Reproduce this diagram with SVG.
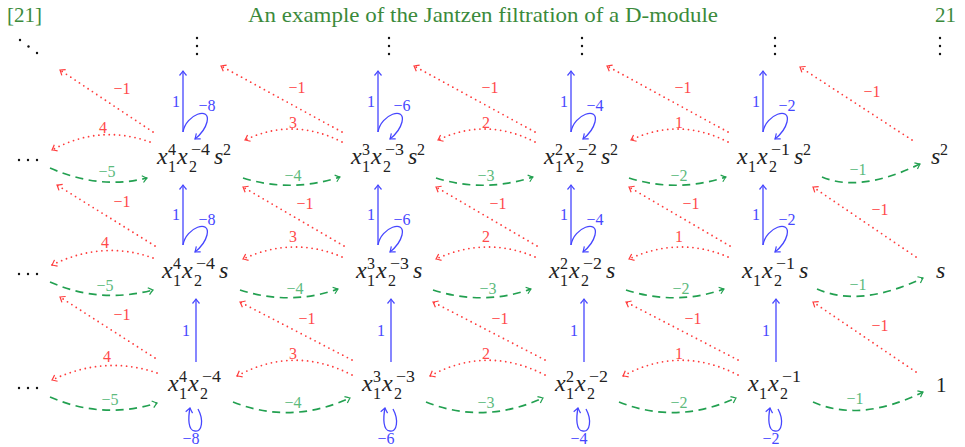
<svg xmlns="http://www.w3.org/2000/svg" width="965" height="447" viewBox="0 0 965 447">
<defs>
<style>
.hd{font-family:"Liberation Serif","Times New Roman",serif;font-size:21px;fill:#3b8a3b}
.m{font-family:"Liberation Serif","Times New Roman",serif;font-style:italic;font-size:24px;fill:#222}
.sc{font-family:"Liberation Serif","Times New Roman",serif;font-size:16px;fill:#222}
.up{font-family:"Liberation Serif","Times New Roman",serif;font-size:21px;fill:#222}
.lr{font-family:"Liberation Serif","Times New Roman",serif;font-size:16px;fill:#ff4a4a;text-anchor:middle}
.lg{font-family:"Liberation Serif","Times New Roman",serif;font-size:16px;fill:#5cba7d;text-anchor:middle}
.lb{font-family:"Liberation Serif","Times New Roman",serif;font-size:16px;fill:#4646ff;text-anchor:middle}
.rd{fill:none;stroke:#ff3c3c;stroke-width:1.8;stroke-dasharray:0 5.2;stroke-linecap:round;marker-end:url(#mr)}
.gd{fill:none;stroke:#22a050;stroke-width:1.7;stroke-dasharray:8 5.5;marker-end:url(#mg)}
.bl{fill:none;stroke:#4646ff;stroke-width:1.3;marker-end:url(#mb)}
.dot{fill:#111}
</style>
<marker id="mr" viewBox="-6 -5 8 10" markerWidth="8" markerHeight="10" refX="0" refY="0" orient="auto" markerUnits="userSpaceOnUse"><path d="M-4.5,-3.5 Q-1.5,-1 0,0 Q-1.5,1 -4.5,3.5" fill="none" stroke="#ff3c3c" stroke-width="1.2"/></marker>
<marker id="mg" viewBox="-6 -5 8 10" markerWidth="8" markerHeight="10" refX="0" refY="0" orient="auto" markerUnits="userSpaceOnUse"><path d="M-4.5,-3.5 Q-1.5,-1 0,0 Q-1.5,1 -4.5,3.5" fill="none" stroke="#22a050" stroke-width="1.2"/></marker>
<marker id="mb" viewBox="-6 -5 8 10" markerWidth="8" markerHeight="10" refX="0" refY="0" orient="auto" markerUnits="userSpaceOnUse"><path d="M-4.5,-3.5 Q-1.5,-1 0,0 Q-1.5,1 -4.5,3.5" fill="none" stroke="#4646ff" stroke-width="1.2"/></marker>
</defs>

<g id="header">
<text class="hd" x="7" y="22">[21]</text>
<text class="hd" x="248" y="22" textLength="470" lengthAdjust="spacingAndGlyphs">An example of the Jantzen filtration of a D-module</text>
<text class="hd" x="956" y="22" text-anchor="end">21</text>
</g>

<g id="dots">
<circle class="dot" cx="20" cy="40" r="1.2"/><circle class="dot" cx="28.5" cy="46.5" r="1.2"/><circle class="dot" cx="37" cy="53" r="1.2"/>
<circle class="dot" cx="197" cy="38" r="1.2"/><circle class="dot" cx="197" cy="46" r="1.2"/><circle class="dot" cx="197" cy="54" r="1.2"/>
<circle class="dot" cx="389" cy="38" r="1.2"/><circle class="dot" cx="389" cy="46" r="1.2"/><circle class="dot" cx="389" cy="54" r="1.2"/>
<circle class="dot" cx="582" cy="38" r="1.2"/><circle class="dot" cx="582" cy="46" r="1.2"/><circle class="dot" cx="582" cy="54" r="1.2"/>
<circle class="dot" cx="775" cy="38" r="1.2"/><circle class="dot" cx="775" cy="46" r="1.2"/><circle class="dot" cx="775" cy="54" r="1.2"/>
<circle class="dot" cx="940" cy="38" r="1.2"/><circle class="dot" cx="940" cy="46" r="1.2"/><circle class="dot" cx="940" cy="54" r="1.2"/>
</g>

<g id="left-dots">
<circle class="dot" cx="19" cy="160" r="1.2"/><circle class="dot" cx="28" cy="160" r="1.2"/><circle class="dot" cx="37" cy="160" r="1.2"/>
<circle class="dot" cx="19" cy="274" r="1.2"/><circle class="dot" cx="28" cy="274" r="1.2"/><circle class="dot" cx="37" cy="274" r="1.2"/>
<circle class="dot" cx="19" cy="388" r="1.2"/><circle class="dot" cx="28" cy="388" r="1.2"/><circle class="dot" cx="37" cy="388" r="1.2"/>
</g>

<!-- nodes: row s^2 -->
<g id="n4s2" transform="translate(157,164)">
<text class="m" x="0" y="0">x</text><text class="sc" x="11" y="8">1</text><text class="sc" x="11" y="-9">4</text>
<text class="m" x="20" y="0">x</text><text class="sc" x="32" y="8">2</text><text class="sc" x="34" y="-9" textLength="19" lengthAdjust="spacingAndGlyphs">−4</text>
<text class="m" x="57" y="0">s</text><text class="sc" x="66" y="-9">2</text>
</g>
<g id="n3s2" transform="translate(351,164)">
<text class="m" x="0" y="0">x</text><text class="sc" x="11" y="8">1</text><text class="sc" x="11" y="-9">3</text>
<text class="m" x="20" y="0">x</text><text class="sc" x="32" y="8">2</text><text class="sc" x="34" y="-9" textLength="19" lengthAdjust="spacingAndGlyphs">−3</text>
<text class="m" x="57" y="0">s</text><text class="sc" x="66" y="-9">2</text>
</g>
<g id="n2s2" transform="translate(544,164)">
<text class="m" x="0" y="0">x</text><text class="sc" x="11" y="8">1</text><text class="sc" x="11" y="-9">2</text>
<text class="m" x="20" y="0">x</text><text class="sc" x="32" y="8">2</text><text class="sc" x="34" y="-9" textLength="19" lengthAdjust="spacingAndGlyphs">−2</text>
<text class="m" x="57" y="0">s</text><text class="sc" x="66" y="-9">2</text>
</g>
<g id="n1s2" transform="translate(737,164)">
<text class="m" x="0" y="0">x</text><text class="sc" x="11" y="8">1</text>
<text class="m" x="20" y="0">x</text><text class="sc" x="32" y="8">2</text><text class="sc" x="34" y="-9" textLength="19" lengthAdjust="spacingAndGlyphs">−1</text>
<text class="m" x="57" y="0">s</text><text class="sc" x="66" y="-9">2</text>
</g>
<g id="n0s2" transform="translate(931,164)">
<text class="m" x="0" y="0">s</text><text class="sc" x="9" y="-9">2</text>
</g>

<!-- nodes: row s -->
<g id="n4s1" transform="translate(162,278)">
<text class="m" x="0" y="0">x</text><text class="sc" x="11" y="8">1</text><text class="sc" x="11" y="-9">4</text>
<text class="m" x="20" y="0">x</text><text class="sc" x="32" y="8">2</text><text class="sc" x="34" y="-9" textLength="19" lengthAdjust="spacingAndGlyphs">−4</text>
<text class="m" x="57" y="0">s</text>
</g>
<g id="n3s1" transform="translate(356,278)">
<text class="m" x="0" y="0">x</text><text class="sc" x="11" y="8">1</text><text class="sc" x="11" y="-9">3</text>
<text class="m" x="20" y="0">x</text><text class="sc" x="32" y="8">2</text><text class="sc" x="34" y="-9" textLength="19" lengthAdjust="spacingAndGlyphs">−3</text>
<text class="m" x="57" y="0">s</text>
</g>
<g id="n2s1" transform="translate(549,278)">
<text class="m" x="0" y="0">x</text><text class="sc" x="11" y="8">1</text><text class="sc" x="11" y="-9">2</text>
<text class="m" x="20" y="0">x</text><text class="sc" x="32" y="8">2</text><text class="sc" x="34" y="-9" textLength="19" lengthAdjust="spacingAndGlyphs">−2</text>
<text class="m" x="57" y="0">s</text>
</g>
<g id="n1s1" transform="translate(742,278)">
<text class="m" x="0" y="0">x</text><text class="sc" x="11" y="8">1</text>
<text class="m" x="20" y="0">x</text><text class="sc" x="32" y="8">2</text><text class="sc" x="34" y="-9" textLength="19" lengthAdjust="spacingAndGlyphs">−1</text>
<text class="m" x="57" y="0">s</text>
</g>
<g id="n0s1" transform="translate(936,278)">
<text class="m" x="0" y="0">s</text>
</g>

<!-- nodes: row 1 -->
<g id="n4s0" transform="translate(168,391)">
<text class="m" x="0" y="0">x</text><text class="sc" x="11" y="8">1</text><text class="sc" x="11" y="-9">4</text>
<text class="m" x="20" y="0">x</text><text class="sc" x="32" y="8">2</text><text class="sc" x="34" y="-9" textLength="19" lengthAdjust="spacingAndGlyphs">−4</text>
</g>
<g id="n3s0" transform="translate(362,391)">
<text class="m" x="0" y="0">x</text><text class="sc" x="11" y="8">1</text><text class="sc" x="11" y="-9">3</text>
<text class="m" x="20" y="0">x</text><text class="sc" x="32" y="8">2</text><text class="sc" x="34" y="-9" textLength="19" lengthAdjust="spacingAndGlyphs">−3</text>
</g>
<g id="n2s0" transform="translate(555,391)">
<text class="m" x="0" y="0">x</text><text class="sc" x="11" y="8">1</text><text class="sc" x="11" y="-9">2</text>
<text class="m" x="20" y="0">x</text><text class="sc" x="32" y="8">2</text><text class="sc" x="34" y="-9" textLength="19" lengthAdjust="spacingAndGlyphs">−2</text>
</g>
<g id="n1s0" transform="translate(748,391)">
<text class="m" x="0" y="0">x</text><text class="sc" x="11" y="8">1</text>
<text class="m" x="20" y="0">x</text><text class="sc" x="32" y="8">2</text><text class="sc" x="34" y="-9" textLength="19" lengthAdjust="spacingAndGlyphs">−1</text>
</g>
<g id="n0s0" transform="translate(936,392)">
<text class="up" x="0" y="0">1</text>
</g>

<g id="connectors">
<!-- gap 0 -->
<path class="rd" d="M153,132 L60,70"/>
<path class="rd" d="M150,142 Q100,124 52,150"/>
<path class="gd" d="M50,168 Q100,190 147,178"/>
<path class="rd" d="M155,246 L57,185"/>
<path class="rd" d="M153,258 Q103,240 52,265"/>
<path class="gd" d="M50,282 Q100,304 153,290"/>
<path class="rd" d="M155,358 L60,297"/>
<path class="rd" d="M157,373 Q105,355 52,380"/>
<path class="gd" d="M50,397 Q103,420 157,403"/>

<!-- gaps 1-3 -->
<g id="gap1">
<path class="rd" d="M342,132 L221,66"/>
<path class="rd" d="M342,142 Q293,117 245,140"/>
<path class="gd" d="M243,178 Q291,193 340,177"/>
<path class="rd" d="M344,246 L243,187"/>
<path class="rd" d="M342,257 Q293,236 243,259"/>
<path class="gd" d="M240,290 Q290,306 338,289"/>
<path class="rd" d="M352,360 L240,302"/>
<path class="rd" d="M352,375 Q294,345 237,376"/>
<path class="gd" d="M233,402 Q291,425 350,398"/>
</g>
<g id="gap2" transform="translate(193,0)">
<path class="rd" d="M342,132 L221,66"/>
<path class="rd" d="M342,142 Q293,117 245,140"/>
<path class="gd" d="M243,178 Q291,193 340,177"/>
<path class="rd" d="M344,246 L243,187"/>
<path class="rd" d="M342,257 Q293,236 243,259"/>
<path class="gd" d="M240,290 Q290,306 338,289"/>
<path class="rd" d="M352,360 L240,302"/>
<path class="rd" d="M352,375 Q294,345 237,376"/>
<path class="gd" d="M233,402 Q291,425 350,398"/>
</g>
<g id="gap3" transform="translate(386,0)">
<path class="rd" d="M342,132 L221,66"/>
<path class="rd" d="M342,142 Q293,117 245,140"/>
<path class="gd" d="M243,178 Q291,193 340,177"/>
<path class="rd" d="M344,246 L243,187"/>
<path class="rd" d="M342,257 Q293,236 243,259"/>
<path class="gd" d="M240,290 Q290,306 338,289"/>
<path class="rd" d="M352,360 L240,302"/>
<path class="rd" d="M352,375 Q294,345 237,376"/>
<path class="gd" d="M233,402 Q291,425 350,398"/>
</g>

<!-- gap 4 -->
<path class="rd" d="M912,140 L800,67"/>
<path class="gd" d="M822,177 Q860,193 920,164"/>
<path class="rd" d="M916,257 L813,187"/>
<path class="gd" d="M817,289 Q860,308 923,278"/>
<path class="rd" d="M916,372 L813,302"/>
<path class="gd" d="M813,402 Q860,423 923,392"/>

<!-- blue: columns -->
<g id="bcol1">
<path class="bl" d="M183,132 L183,71"/>
<path class="bl" d="M183,132 C186,114 211,106 207,122 C205,130 200,135 195,139"/>
<path class="bl" d="M183,245 L183,185"/>
<path class="bl" d="M183,245 C186,227 211,219 207,235 C205,243 200,248 195,252"/>
<path class="bl" d="M196,362 L196,299"/>
<path class="bl" d="M198,409 C204,420 202,432 195,431 C188,431 188,418 190,408"/>
</g>
<g id="bcol2" transform="translate(195,0)">
<path class="bl" d="M183,132 L183,71"/>
<path class="bl" d="M183,132 C186,114 211,106 207,122 C205,130 200,135 195,139"/>
<path class="bl" d="M183,245 L183,185"/>
<path class="bl" d="M183,245 C186,227 211,219 207,235 C205,243 200,248 195,252"/>
<path class="bl" d="M196,362 L196,299"/>
<path class="bl" d="M198,409 C204,420 202,432 195,431 C188,431 188,418 190,408"/>
</g>
<g id="bcol3" transform="translate(388,0)">
<path class="bl" d="M183,132 L183,71"/>
<path class="bl" d="M183,132 C186,114 211,106 207,122 C205,130 200,135 195,139"/>
<path class="bl" d="M183,245 L183,185"/>
<path class="bl" d="M183,245 C186,227 211,219 207,235 C205,243 200,248 195,252"/>
<path class="bl" d="M196,362 L196,299"/>
<path class="bl" d="M198,409 C204,420 202,432 195,431 C188,431 188,418 190,408"/>
</g>
<g id="bcol4" transform="translate(580,0)">
<path class="bl" d="M183,132 L183,71"/>
<path class="bl" d="M183,132 C186,114 211,106 207,122 C205,130 200,135 195,139"/>
<path class="bl" d="M183,245 L183,185"/>
<path class="bl" d="M183,245 C186,227 211,219 207,235 C205,243 200,248 195,252"/>
<path class="bl" d="M196,362 L196,299"/>
<path class="bl" d="M198,409 C204,420 202,432 195,431 C188,431 188,418 190,408"/>
</g>
</g>

<g id="labels">
<!-- red -1 diagonals -->
<text class="lr" x="122" y="94">−1</text><text class="lr" x="297" y="93">−1</text><text class="lr" x="490" y="93">−1</text><text class="lr" x="683" y="93">−1</text><text class="lr" x="872" y="97">−1</text>
<text class="lr" x="122" y="207">−1</text><text class="lr" x="305" y="209">−1</text><text class="lr" x="498" y="209">−1</text><text class="lr" x="691" y="209">−1</text><text class="lr" x="880" y="215">−1</text>
<text class="lr" x="122" y="320">−1</text><text class="lr" x="307" y="324">−1</text><text class="lr" x="500" y="324">−1</text><text class="lr" x="693" y="324">−1</text><text class="lr" x="880" y="331">−1</text>
<!-- red curved -->
<text class="lr" x="103" y="133">4</text><text class="lr" x="293" y="128">3</text><text class="lr" x="486" y="128">2</text><text class="lr" x="679" y="128">1</text>
<text class="lr" x="105" y="248">4</text><text class="lr" x="293" y="242">3</text><text class="lr" x="486" y="242">2</text><text class="lr" x="679" y="242">1</text>
<text class="lr" x="107" y="362">4</text><text class="lr" x="293" y="359">3</text><text class="lr" x="486" y="359">2</text><text class="lr" x="679" y="359">1</text>
<!-- green -->
<text class="lg" x="107" y="177">−5</text><text class="lg" x="293" y="181">−4</text><text class="lg" x="486" y="181">−3</text><text class="lg" x="679" y="181">−2</text><text class="lg" x="858" y="175">−1</text>
<text class="lg" x="105" y="291">−5</text><text class="lg" x="295" y="294">−4</text><text class="lg" x="488" y="294">−3</text><text class="lg" x="681" y="294">−2</text><text class="lg" x="858" y="290">−1</text>
<text class="lg" x="110" y="405">−5</text><text class="lg" x="293" y="408">−4</text><text class="lg" x="486" y="408">−3</text><text class="lg" x="679" y="408">−2</text><text class="lg" x="855" y="404">−1</text>
<!-- blue -->
<text class="lb" x="176" y="107">1</text><text class="lb" x="207" y="111">−8</text>
<text class="lb" x="371" y="107">1</text><text class="lb" x="402" y="111">−6</text>
<text class="lb" x="564" y="107">1</text><text class="lb" x="595" y="111">−4</text>
<text class="lb" x="756" y="107">1</text><text class="lb" x="787" y="111">−2</text>
<text class="lb" x="176" y="220">1</text><text class="lb" x="207" y="225">−8</text>
<text class="lb" x="371" y="220">1</text><text class="lb" x="402" y="225">−6</text>
<text class="lb" x="564" y="220">1</text><text class="lb" x="595" y="225">−4</text>
<text class="lb" x="756" y="220">1</text><text class="lb" x="787" y="225">−2</text>
<text class="lb" x="186" y="336">1</text><text class="lb" x="381" y="336">1</text><text class="lb" x="574" y="336">1</text><text class="lb" x="766" y="336">1</text>
<text class="lb" x="191" y="444">−8</text><text class="lb" x="386" y="444">−6</text><text class="lb" x="579" y="444">−4</text><text class="lb" x="771" y="444">−2</text>
</g>
</svg>
